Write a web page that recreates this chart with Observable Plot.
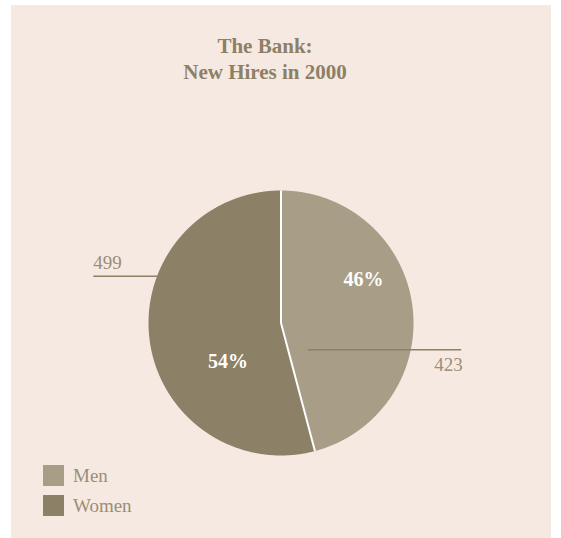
<!DOCTYPE html>
<html><head><meta charset="utf-8">
<script src="https://cdn.jsdelivr.net/npm/d3@7"></script>
<script src="https://cdn.jsdelivr.net/npm/@observablehq/plot@0.6"></script>
<style>
body{margin:0;background:#fff;}
#panel{position:absolute;left:11px;top:5px;width:540px;height:533px;background:#f6e9e1;font-family:"Liberation Serif","Times New Roman",serif;overflow:hidden}
#title{position:absolute;left:0;top:28px;width:508px;text-align:center;font-weight:bold;font-size:21px;line-height:26px;color:#8c8067}
#chart{position:absolute;left:0;top:95px}
.sw{position:absolute;left:32px;width:21px;height:21px}
.lt{position:absolute;left:62px;font-size:19px;line-height:22px;color:#9a8e78}
</style></head>
<body>
<div id="panel">
  <div id="title">The Bank:<br>New Hires in 2000</div>
  <div id="chart"></div>
  <div id="legend"></div>
</div>
<script>
// ---- data ----
const categories = ["Men", "Women"];
const hires = [423, 499];
const colors = ["#a89d87", "#8c8067"];

// ---- layout (label anchors, in pie-radius units) ----
const W = 540, H = 360, R = 132.5, cx = 269.5, cy = 222.5;
const valueLabelLayout = [
  {lineFrom: 0.2023, lineTo: 1.360, lineY: -0.202, textX: 1.372, textY: -0.366, anchor: "end"},
  {lineFrom: -1.417, lineTo: -0.936, lineY: 0.353, textX: -1.417, textY: 0.409, anchor: "start"}
];
const pctLayout = [
  {x: 0.623, y: 0.283},
  {x: -0.40, y: -0.336}
];

const total = d3.sum(hires);
const rows = categories.map((c, i) => ({category: c, value: hires[i]}));
const arcs = d3.pie().sort(null).value(d => d.value)(rows);

// slice outlines from pie angles
const poly = [];
arcs.forEach(a => {
  const c = a.data.category;
  poly.push({category: c, x: 0, y: 0});
  const n = Math.ceil((a.endAngle - a.startAngle) / 0.005);
  for (let k = 0; k <= n; k++) {
    const t = a.startAngle + (a.endAngle - a.startAngle) * k / n;
    poly.push({category: c, x: Math.sin(t), y: Math.cos(t)});
  }
});

const leaders = rows.map((d, i) => ({...d, ...valueLabelLayout[i]}));
const pcts = rows.map((d, i) => ({...d, ...pctLayout[i], label: Math.round(d.value / total * 100) + "%"}));
const valueText = anchor => Plot.text(leaders.filter(d => d.anchor === anchor), {
  x: "textX", y: "textY", text: d => String(d.value), textAnchor: anchor,
  lineAnchor: "bottom", fill: "#9a8e78", fontSize: 19
});

const plot = Plot.plot({
  width: W, height: H,
  margin: 0,
  x: {domain: [-cx / R, (W - cx) / R], axis: null},
  y: {domain: [(cy - H) / R, cy / R], axis: null},
  color: {domain: categories, range: colors},
  style: {background: "transparent", fontFamily: "Liberation Serif, Times New Roman, serif"},
  marks: [
    Plot.line(poly, {x: "x", y: "y", z: "category", fill: "category", stroke: null, curve: "linear-closed"}),
    Plot.link(arcs, {x1: 0, y1: 0, x2: d => Math.sin(d.startAngle), y2: d => Math.cos(d.startAngle), stroke: "white", strokeWidth: 2}),
    Plot.link(leaders, {x1: "lineFrom", x2: "lineTo", y1: "lineY", y2: "lineY", stroke: "#8c8067", strokeWidth: 1.3}),
    valueText("start"),
    valueText("end"),
    Plot.text(pcts, {x: "x", y: "y", text: "label", lineAnchor: "bottom", fill: "white", fontSize: 20, fontWeight: "bold", letterSpacing: 1})
  ]
});
document.getElementById("chart").appendChild(plot);

// legend
const legend = document.getElementById("legend");
categories.forEach((c, i) => {
  const sw = document.createElement("div");
  sw.className = "sw"; sw.style.top = (460 + i * 30) + "px"; sw.style.background = colors[i];
  const lt = document.createElement("div");
  lt.className = "lt"; lt.style.top = (460 + i * 30) + "px"; lt.textContent = c;
  legend.appendChild(sw); legend.appendChild(lt);
});
</script>
</body></html>
